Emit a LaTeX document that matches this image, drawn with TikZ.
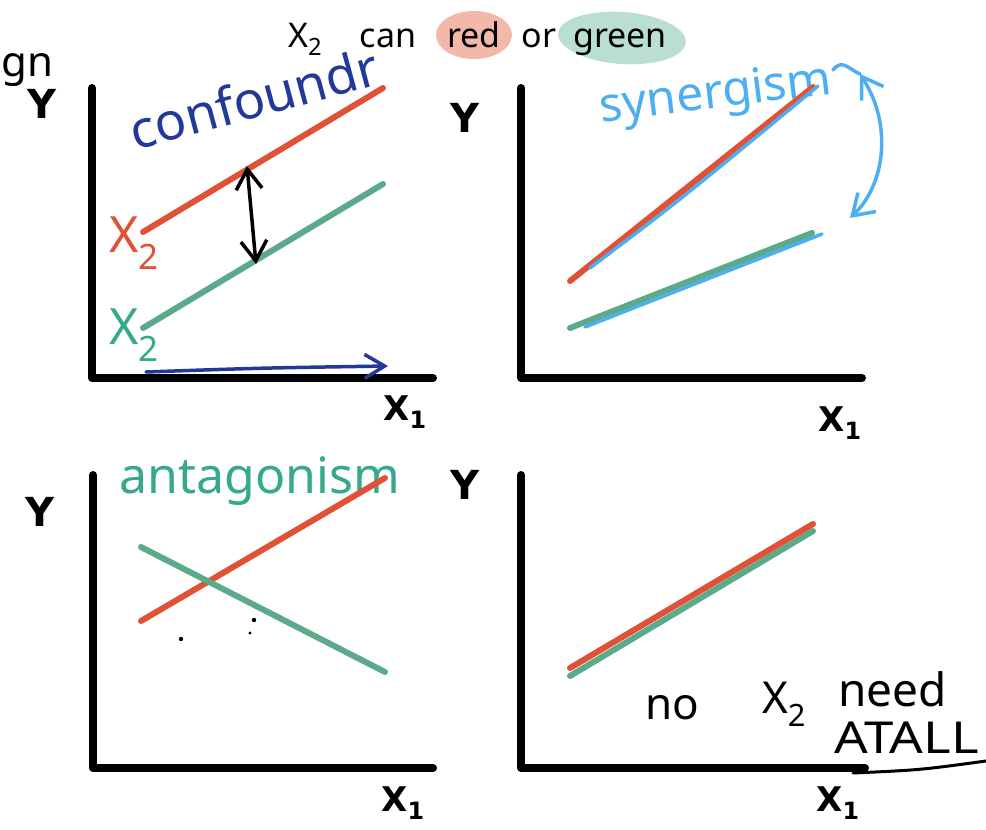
\documentclass[tikz,border=0pt]{standalone}
\usepackage{fontspec}
\setmainfont{Noto Sans}
\newfontfamily\labfont{DejaVu Sans}
\usetikzlibrary{arrows.meta}
\definecolor{cred}{HTML}{E05236}
\definecolor{cgreen}{HTML}{5BAA8A}
\definecolor{cdblue}{HTML}{22399A}
\definecolor{clblue}{HTML}{4EAEF2}
\definecolor{cagreen}{HTML}{35A98A}
\definecolor{blobred}{HTML}{F2B8AA}
\definecolor{blobgreen}{HTML}{BADFD1}
\begin{document}
\begin{tikzpicture}[x=1pt,y=-1pt,
 axis/.style={line width=8pt, line cap=round, line join=round},
 redl/.style={cred, line width=6pt, line cap=round},
 greenl/.style={cgreen, line width=6pt, line cap=round},
 bluel/.style={clblue, line width=3.5pt, line cap=round},
 ylab/.style={font=\fontsize{40}{44}\labfont\bfseries, inner sep=0pt},
 xlab/.style={font=\fontsize{34}{40}\labfont\bfseries, inner sep=0pt},
 hand/.style={inner sep=0pt},
 barb/.style={-{Straight Barb[length=20pt,width=24pt]}},
 dbarb/.style={{Straight Barb[length=20pt,width=26pt]}-{Straight Barb[length=20pt,width=26pt]}},
]
\useasboundingbox (0,0) rectangle (986,830);

% header
\fill[blobred] (474,35) ellipse (38 and 24);
\fill[blobgreen, rotate around={-4:(622,38)}] (622,38) ellipse (64 and 26);
\node[hand, anchor=base west, font=\fontsize{34}{38}\selectfont] (hx) at (288,47) {X\textsubscript{2}};
\node[hand, anchor=base, font=\fontsize{34}{38}\selectfont] (hcan) at (388,47) {can};
\node[hand, anchor=base, font=\fontsize{34}{38}\selectfont] (hred) at (474,47) {red};
\node[hand, anchor=base, font=\fontsize{34}{38}\selectfont] (hor) at (539,47) {or};
\node[hand, anchor=base, font=\fontsize{34}{38}\selectfont] (hgreen) at (620,47) {green};
\node[hand, anchor=base west, font=\fontsize{42}{44}\selectfont] (gn) at (1,76) {gn};

% ---------- top-left: confounder ----------
\coordinate (tlT) at (92,88); \coordinate (tlO) at (92,378); \coordinate (tlR) at (433,378);
\draw[axis] (tlT) -- (tlO) -- (tlR);
\node[ylab] (tlY) at (42,104) {Y};
\node[xlab] (tlX) at (405,412) {X\textsubscript{1}};
\node[hand, rotate=15, text=cdblue, font=\fontsize{52}{56}\selectfont] (conf) at (254,98) {confoundr};
\coordinate (tlr1) at (143,232); \coordinate (tlr2) at (383,88);
\coordinate (tlg1) at (143,328); \coordinate (tlg2) at (383,184);
\draw[redl] (tlr1) -- (tlr2);
\draw[greenl] (tlg1) -- (tlg2);
\coordinate (tla1) at (247,166); \coordinate (tla2) at (256,264);
\draw[line width=3.5pt, line cap=round, dbarb] (tla1) -- (tla2);
\node[hand, text=cred, font=\fontsize{50}{52}\selectfont] (tlrx) at (134,243) {X\textsubscript{2}};
\node[hand, text=cagreen, font=\fontsize{50}{52}\selectfont] (tlgx) at (134,335) {X\textsubscript{2}};
\coordinate (tlb1) at (146,372); \coordinate (tlb2) at (388,366);
\draw[cdblue, line width=3.5pt, line cap=round, barb] (tlb1) .. controls (260,368) .. (tlb2);

% ---------- top-right: synergism ----------
\coordinate (trT) at (521,88); \coordinate (trO) at (521,378); \coordinate (trR) at (862,378);
\draw[axis] (trT) -- (trO) -- (trR);
\node[ylab] (trY) at (465,118) {Y};
\node[xlab] (trX) at (840,423) {X\textsubscript{1}};
\node[hand, rotate=7, text=clblue, font=\fontsize{48}{52}\selectfont] (syn) at (716,96) {synergism};
\coordinate (trr1) at (570,281); \coordinate (trr2) at (813,87);
\coordinate (trg1) at (570,328); \coordinate (trg2) at (812,233);
\draw[redl] (trr1) -- (trr2);
\draw[greenl] (trg1) -- (trg2);
\coordinate (trb1) at (590,268); \coordinate (trb2) at (818,86);
\draw[bluel] (trb1) .. controls (680,200) .. (trb2);
\coordinate (trc1) at (585,327); \coordinate (trc2) at (822,234);
\draw[bluel] (trc1) -- (trc2);
\coordinate (trs1) at (833,70); \coordinate (trq1) at (860,74); \coordinate (trq2) at (850,218);
\draw[bluel] (trs1) .. controls (842,58) and (850,70) .. (trq1);
\draw[bluel, dbarb] (trq1) .. controls (893,125) and (885,185) .. (trq2);

% ---------- bottom-left: antagonism ----------
\coordinate (blT) at (93,475); \coordinate (blO) at (93,768); \coordinate (blR) at (433,768);
\draw[axis] (blT) -- (blO) -- (blR);
\node[ylab] (blY) at (40,512) {Y};
\node[xlab] (blX) at (403,803) {X\textsubscript{1}};
\node[hand, text=cagreen, font=\fontsize{50}{54}\selectfont] (ant) at (260,481) {antagonism};
\coordinate (blr1) at (141,621); \coordinate (blr2) at (385,478);
\coordinate (blg1) at (141,547); \coordinate (blg2) at (385,672);
\draw[redl] (blr1) -- (blr2);
\draw[greenl] (blg1) -- (blg2);
\fill (181,639) circle (2.2);
\fill (254,620) circle (2.2);
\fill (250,633) circle (1.6);

% ---------- bottom-right: no interaction ----------
\coordinate (brT) at (521,475); \coordinate (brO) at (521,768); \coordinate (brR) at (865,768);
\draw[axis] (brT) -- (brO) -- (brR);
\node[ylab] (brY) at (465,485) {Y};
\node[xlab] (brX) at (838,803) {X\textsubscript{1}};
\coordinate (brg1) at (570,676); \coordinate (brg2) at (813,531);
\coordinate (brr1) at (570,668); \coordinate (brr2) at (813,524);
\draw[greenl] (brg1) -- (brg2);
\draw[redl] (brr1) -- (brr2);
\node[hand, anchor=base west, font=\fontsize{44}{48}\selectfont] (no) at (645,719) {no};
\node[hand, anchor=base west, font=\fontsize{44}{48}\selectfont] (nx) at (762,713) {X\textsubscript{2}};
\node[hand, anchor=base west, font=\fontsize{46}{48}\selectfont] (need) at (838,706) {need};
\node[hand, anchor=base west, xscale=1.2, font=\fontsize{44}{46}\selectfont] (atall) at (834,753) {ATALL};
\coordinate (ul1) at (853,773); \coordinate (ul2) at (986,761);
\draw[line width=3pt, line cap=round] (ul1) .. controls (920,770) .. (ul2);
\end{tikzpicture}
\end{document}
